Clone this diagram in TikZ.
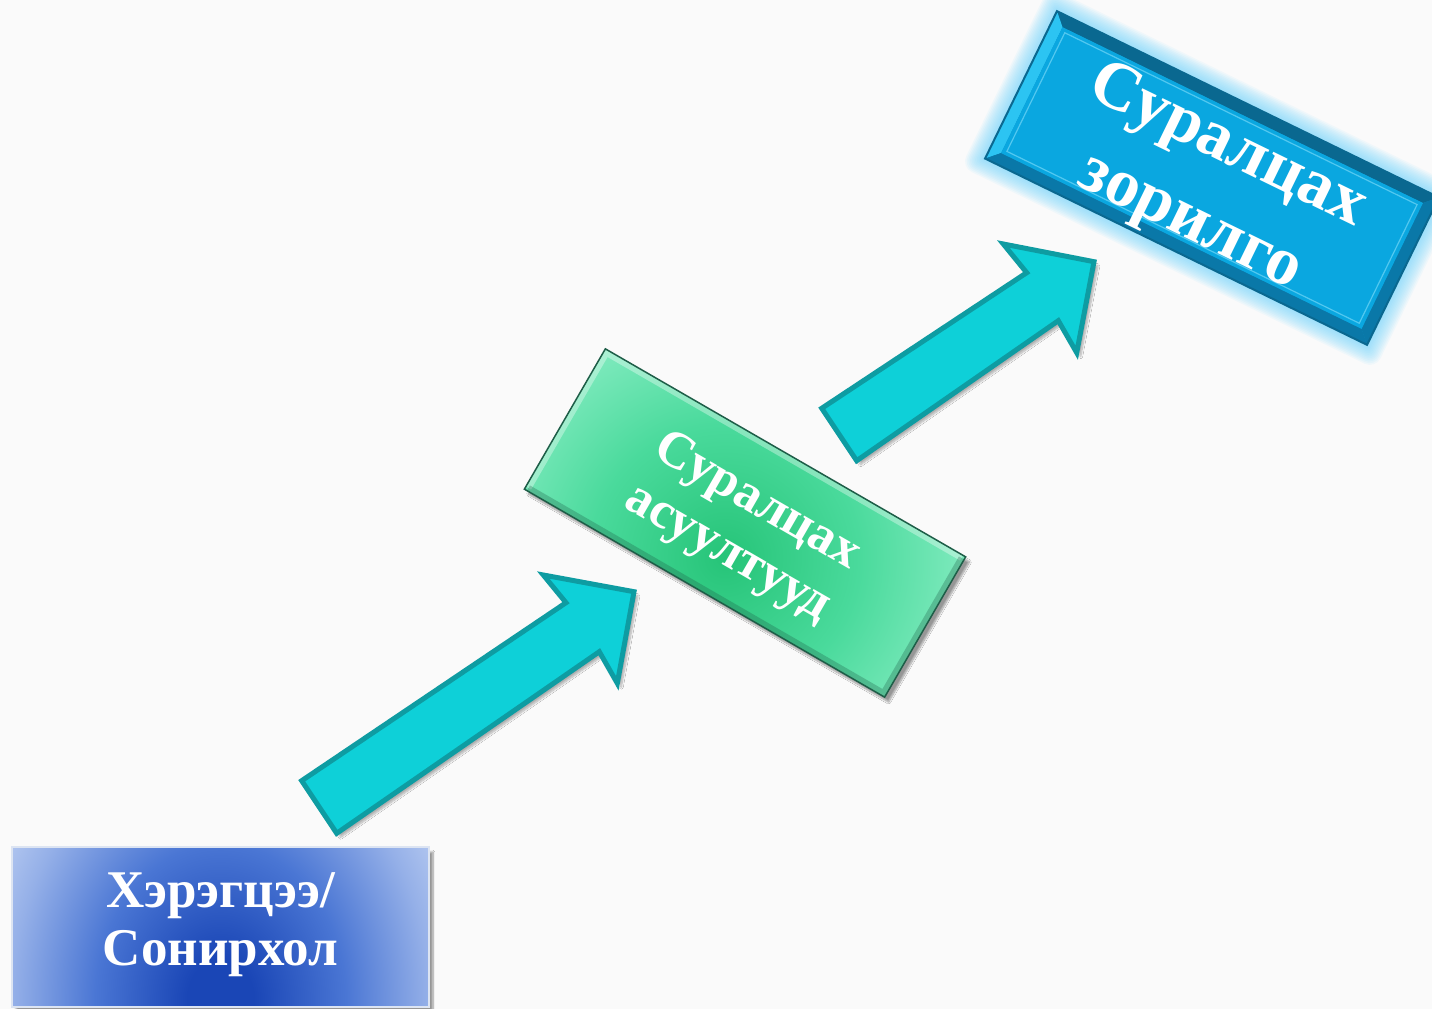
\documentclass[tikz,border=0pt]{standalone}
\usepackage{fontspec}
\setmainfont{Liberation Serif}
\usetikzlibrary{shadows.blur}
\definecolor{bgc}{HTML}{FAFAFA}
\definecolor{arrfill}{HTML}{0ED0D8}
\definecolor{arrdraw}{HTML}{0E9CA2}
\definecolor{b1c0}{HTML}{1A46B6}
\definecolor{b1c1}{HTML}{4A76D4}
\definecolor{b1c2}{HTML}{95B0E8}
\definecolor{b1c3}{HTML}{B4C8F0}
\definecolor{b1edge}{HTML}{DCE4F2}
\definecolor{g0}{HTML}{26C478}
\definecolor{g1}{HTML}{4ADA9C}
\definecolor{g2}{HTML}{8CEEC6}
\definecolor{g3}{HTML}{A8F6DA}
\definecolor{gdark}{HTML}{1E5E48}
\definecolor{bl}{HTML}{0AA7E0}
\definecolor{bldark}{HTML}{0A6890}
\definecolor{blmid}{HTML}{0B8CC0}
\definecolor{bllight}{HTML}{2CC4F2}
\definecolor{blbottom}{HTML}{0A78A8}
\definecolor{blframe}{HTML}{52C8F0}
\definecolor{blglow}{HTML}{6ED6FA}
\pgfdeclareradialshading{oneshade}{\pgfpoint{0bp}{0bp}}{color(0bp)=(b1c0); color(4bp)=(b1c0); color(15bp)=(b1c1); color(25bp)=(b1c2); color(30bp)=(b1c3); color(50bp)=(b1c3)}
\pgfdeclareradialshading{twoshade}{\pgfpoint{0bp}{0bp}}{color(0bp)=(g0); color(12bp)=(g1); color(24bp)=(g2); color(30bp)=(g3); color(50bp)=(g3)}
\begin{document}
\begin{tikzpicture}[x=1pt,y=-1pt,
  lbl/.style={text=white, align=center, inner sep=0pt},
  blockarrow/.style={fill=arrfill, draw=arrdraw, line width=5pt, line join=miter,
    blur shadow={shadow xshift=4pt, shadow yshift=-4pt, shadow opacity=30, shadow blur steps=8}},
  softshadow/.style={blur shadow={shadow xshift=4pt, shadow yshift=-5pt, shadow opacity=40, shadow blur steps=8}}]
\useasboundingbox (0,0) rectangle (1432,1009);
\clip (0,0) rectangle (1432,1009);
\fill[bgc] (0,0) rectangle (1432,1009);

% ---- box 1 : need / interest
\node[minimum width=417pt, minimum height=160pt, inner sep=0pt, outer sep=0pt] (need) at (220.5,927) {};
\path[softshadow] (need.south west) rectangle (need.north east);
\begin{scope}
  \clip (need.south west) rectangle (need.north east);
  \shade[shading=oneshade] (12,740) rectangle (429,1260);
\end{scope}
\draw[b1edge, line width=2pt] (need.south west) rectangle (need.north east);
\node[lbl, font=\fontsize{53}{58}\selectfont\bfseries] (needtext) at (220.5,925) {Хэрэгцээ/\\Сонирхол};

% ---- box 2 : learning questions
\begin{scope}[shift={(745,523)}, rotate=-30]
  \coordinate (qcentre) at (0,0);
  \path[softshadow] (-208,-81) rectangle (208,81);
  \begin{scope}
    \clip (-208,-81) rectangle (208,81);
    \shade[shading=twoshade] (-208,-160) rectangle (208,240);
  \end{scope}
  \draw[white, opacity=0.35, line width=6pt] (-205,78) -- (-205,-78) -- (205,-78);
  \draw[gdark, opacity=0.3, line width=6pt] (-205,78) -- (205,78) -- (205,-78);
  \draw[gdark, line width=1.5pt] (-208,-81) rectangle (208,81);
  \node[lbl, rotate=-30, font=\fontsize{52}{59}\selectfont\bfseries] (questions) at (0,6) {Суралцах\\асуултууд};
\end{scope}

% ---- box 3 : learning goal
\begin{scope}[shift={(1212,178)}, rotate=-26]
  \foreach \i in {1,...,12}
    \fill[blglow, opacity=0.08, rounded corners=\i pt] (-212.5-\i*1.5,-82-\i*1.5) rectangle (212.5+\i*1.5,82+\i*1.5);
  \fill[blmid] (-212.5,-82) rectangle (212.5,82);
  \fill[bldark] (-212.5,-82) -- (212.5,-82) -- (200.5,-70) -- (-200.5,-70) -- cycle;
  \fill[bllight] (-212.5,-82) -- (-200.5,-70) -- (-200.5,70) -- (-212.5,82) -- cycle;
  \fill[blbottom] (-212.5,82) -- (-200.5,70) -- (200.5,70) -- (212.5,82) -- cycle;
  \fill[blbottom] (212.5,-82) -- (200.5,-70) -- (200.5,70) -- (212.5,82) -- cycle;
  \fill[bl] (-200.5,-70) rectangle (200.5,70);
  \draw[blframe, line width=1.2pt] (-196,-66) rectangle (196,66);
  \draw[bldark, line width=2pt] (-212.5,-82) rectangle (212.5,82);
  \node[lbl, rotate=-26, font=\fontsize{68}{84}\selectfont\bfseries] (goal) at (0,8) {Суралцах\\зорилго};
\end{scope}

% ---- block arrows
\coordinate (a1tail) at (319,807);
\coordinate (a1tip) at (634,591.7);
\draw[blockarrow] (301.7,780.7) -- (566,602.7) -- (543.3,575) -- (a1tip) -- (617.3,683.3) -- (599.3,651.7) -- (336.7,833.3) -- cycle;
\coordinate (a2tail) at (839,434.5);
\coordinate (a2tip) at (1094,261.7);
\draw[blockarrow] (821.7,408.3) -- (1026.7,272.7) -- (1003.3,244) -- (a2tip) -- (1076.7,352.7) -- (1058.3,320.7) -- (856.7,460.7) -- cycle;
\end{tikzpicture}
\end{document}
